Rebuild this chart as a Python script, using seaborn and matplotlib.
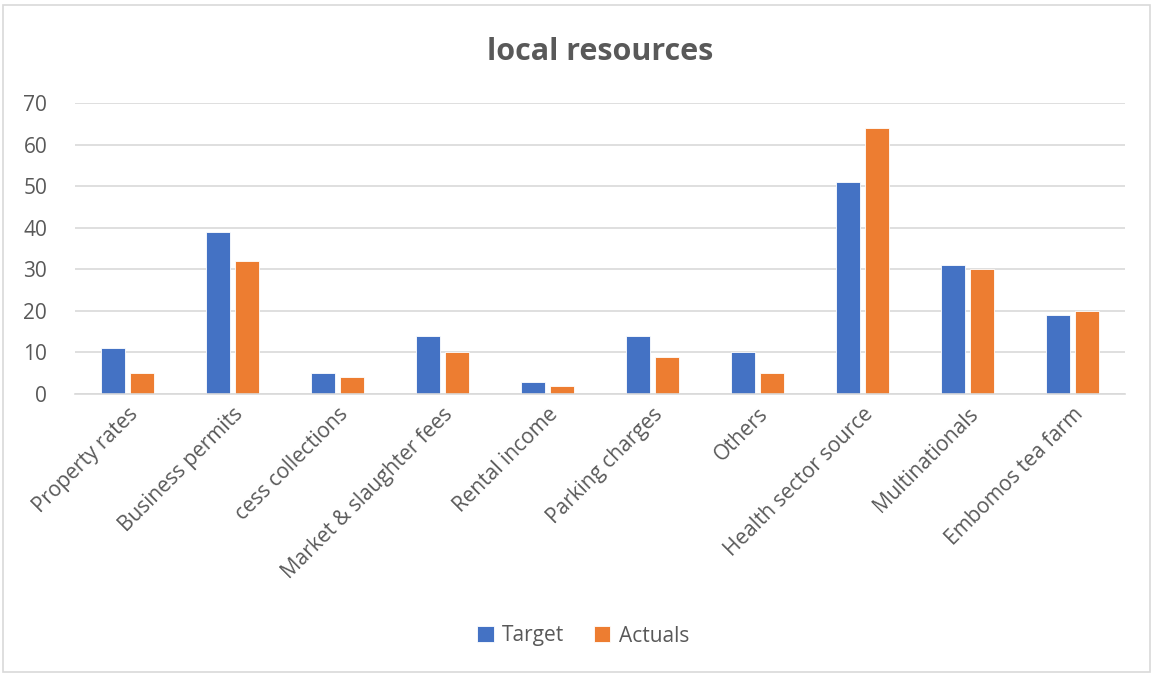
import numpy as np
import pandas as pd
import matplotlib
matplotlib.use('Agg')
import matplotlib.pyplot as plt
import seaborn as sns
from matplotlib.patches import Rectangle

categories = ['Property rates', 'Business permits', 'cess collections',
              'Market & slaughter fees', 'Rental income', 'Parking charges',
              'Others', 'Health sector source', 'Multinationals', 'Embomos tea farm']
target  = [11, 39, 5, 14, 3, 14, 10, 51, 31, 19]
actuals = [5, 32, 4, 10, 2, 9, 5, 64, 30, 20]
series  = ['Target', 'Actuals']
colors  = ['#4472C4', '#ED7D31']

df = pd.DataFrame({'category': categories * 2,
                   'value': target + actuals,
                   'series': ['Target'] * len(categories) + ['Actuals'] * len(categories)})

sns.set_theme(style='white')
plt.rcParams['font.family'] = ['Open Sans', 'DejaVu Sans']
txt = '#595959'

fig = plt.figure(figsize=(11.54, 6.75), dpi=100)
ax = fig.add_axes([75/1154, 1 - 394/675, (1125-75)/1154, (394-103)/675])

sns.barplot(data=df, x='category', y='value', hue='series', hue_order=series,
            palette=colors, width=0.57, gap=0.2, ax=ax, legend=True, saturation=1,
            edgecolor='#FFFFFF', linewidth=0.6)

ax.set_ylim(0, 70)
ax.set_yticks(range(0, 71, 10))
ax.set_xlim(-0.5, len(categories) - 0.5)
ax.yaxis.grid(True, color='#D9D9D9', linewidth=1.2)
ax.set_axisbelow(True)
for s in ['top', 'right', 'left']:
    ax.spines[s].set_visible(False)
ax.spines['bottom'].set_color('#D9D9D9')
ax.spines['bottom'].set_linewidth(1.2)
ax.set_xlabel('')
ax.set_ylabel('')
ax.tick_params(axis='both', length=0, colors=txt, labelsize=15)
ax.tick_params(axis='y', pad=20)
ax.tick_params(axis='x', pad=7)
plt.setp(ax.get_xticklabels(), rotation=45, ha='right', rotation_mode='anchor')

ax.set_title('local resources', fontsize=22, fontweight='bold', color=txt, pad=31)

leg = ax.legend(loc='center', bbox_to_anchor=(583/1154, 1 - 636/675),
                bbox_transform=fig.transFigure, ncol=2, frameon=False,
                fontsize=15, handlelength=0.8, handleheight=0.8, columnspacing=1.4,
                handletextpad=0.4)
for t in leg.get_texts():
    t.set_color(txt)

fig.patches.append(Rectangle((3/1154, 3/675), 1 - 7/1154, 1 - 8/675,
                             transform=fig.transFigure, fill=False,
                             edgecolor='#D9D9D9', linewidth=1.2))

fig.savefig('out.png', dpi=100)
